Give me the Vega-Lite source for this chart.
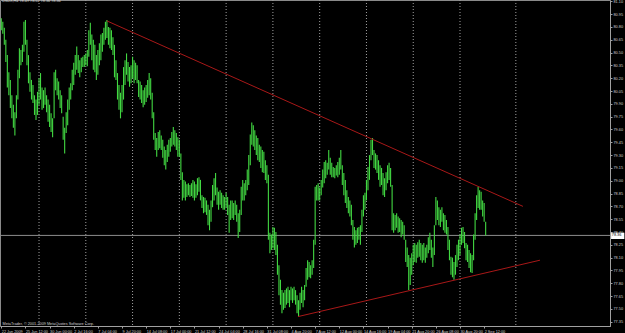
{
"$schema": "https://vega.github.io/schema/vega-lite/v6.json",
"width": 610, "height": 326,
"autosize": "none",
"padding": {"left": 0, "top": 0, "right": 15, "bottom": 7},
"background": "#000000",
"config": {"view": {"stroke": "#8a8a8a", "strokeWidth": 1}, "font": "Liberation Sans"},
"title": {"text": "USDX,H4 78.49 78.52 78.36 78.36", "anchor": "start", "frame": "group", "orient": "top", "baseline": "top", "offset": -4, "dx": 2, "fontSize": 3.8, "fontWeight": "normal", "color": "#d8d8d8", "font": "Liberation Sans"},
"datasets": {
"weeks": [{"b":25},{"b":56},{"b":87},{"b":118},{"b":149},{"b":180},{"b":211},{"b":242},{"b":273},{"b":304},{"b":341}],
"trend": [{"line":"up","b":70,"p":80.87},{"line":"up","b":345.7,"p":78.70},{"line":"lo","b":196.6,"p":77.41},{"line":"lo","b":357,"p":78.07}],
"bid": [{"p":78.36}],
"bars": [
{"b":0,"h":80.90,"l":80.76},{"b":1,"h":80.86,"l":80.72},{"b":2,"h":80.79,"l":80.59},{"b":3,"h":80.65,"l":80.39},{"b":4,"h":80.47,"l":80.09},{"b":5,"h":80.27,"l":80.00},{"b":6,"h":80.18,"l":79.85},{"b":7,"h":80.00,"l":79.73},{"b":8,"h":79.89,"l":79.62},{"b":9,"h":79.80,"l":79.53},
{"b":10,"h":80.00,"l":79.73},{"b":11,"h":80.30,"l":79.95},{"b":12,"h":80.55,"l":80.20},{"b":13,"h":80.53,"l":80.35},{"b":14,"h":80.59,"l":80.39},{"b":15,"h":80.86,"l":80.51},{"b":16,"h":80.88,"l":80.59},{"b":17,"h":80.65,"l":80.35},{"b":18,"h":80.47,"l":80.14},{"b":19,"h":80.27,"l":80.04},
{"b":20,"h":80.18,"l":79.95},{"b":21,"h":80.12,"l":79.91},{"b":22,"h":80.00,"l":79.77},{"b":23,"h":79.95,"l":79.71},{"b":24,"h":80.04,"l":79.77},{"b":25,"h":80.20,"l":79.89},{"b":26,"h":80.26,"l":79.95},{"b":27,"h":80.09,"l":79.83},{"b":28,"h":80.06,"l":79.85},{"b":29,"h":80.09,"l":79.89},
{"b":30,"h":80.00,"l":79.80},{"b":31,"h":79.95,"l":79.69},{"b":32,"h":79.89,"l":79.63},{"b":33,"h":79.79,"l":79.57},{"b":34,"h":79.73,"l":79.51},{"b":35,"h":80.27,"l":79.73},{"b":36,"h":80.30,"l":80.06},{"b":37,"h":80.20,"l":80.00},{"b":38,"h":80.16,"l":79.95},{"b":39,"h":80.06,"l":79.85},
{"b":40,"h":80.00,"l":79.79},{"b":41,"h":79.75,"l":79.48},{"b":42,"h":79.62,"l":79.32},{"b":43,"h":79.80,"l":79.56},{"b":44,"h":79.95,"l":79.65},{"b":45,"h":80.09,"l":79.83},{"b":46,"h":80.14,"l":79.95},{"b":47,"h":80.30,"l":80.06},{"b":48,"h":80.38,"l":80.12},{"b":49,"h":80.47,"l":80.24},
{"b":50,"h":80.57,"l":80.30},{"b":51,"h":80.47,"l":80.26},{"b":52,"h":80.41,"l":80.21},{"b":53,"h":80.44,"l":80.27},{"b":54,"h":80.45,"l":80.33},{"b":55,"h":80.47,"l":80.33},{"b":56,"h":80.49,"l":80.35},{"b":57,"h":80.53,"l":80.34},{"b":58,"h":80.76,"l":80.45},{"b":59,"h":80.85,"l":80.59},
{"b":60,"h":80.71,"l":80.41},{"b":61,"h":80.65,"l":80.30},{"b":62,"h":80.59,"l":80.27},{"b":63,"h":80.47,"l":80.18},{"b":64,"h":80.53,"l":80.24},{"b":65,"h":80.61,"l":80.35},{"b":66,"h":80.71,"l":80.41},{"b":67,"h":80.73,"l":80.51},{"b":68,"h":80.79,"l":80.59},{"b":69,"h":80.86,"l":80.65},
{"b":70,"h":80.88,"l":80.67},{"b":71,"h":80.80,"l":80.59},{"b":72,"h":80.79,"l":80.55},{"b":73,"h":80.76,"l":80.53},{"b":74,"h":80.68,"l":80.47},{"b":75,"h":80.59,"l":80.21},{"b":76,"h":80.41,"l":80.18},{"b":77,"h":80.26,"l":79.95},{"b":78,"h":80.12,"l":79.83},{"b":79,"h":80.03,"l":79.73},
{"b":80,"h":80.12,"l":79.80},{"b":81,"h":80.33,"l":79.95},{"b":82,"h":80.41,"l":80.12},{"b":83,"h":80.49,"l":80.24},{"b":84,"h":80.39,"l":80.16},{"b":85,"h":80.33,"l":80.10},{"b":86,"h":80.35,"l":80.14},{"b":87,"h":80.45,"l":80.20},{"b":88,"h":80.41,"l":80.14},{"b":89,"h":80.38,"l":80.18},
{"b":90,"h":80.35,"l":80.14},{"b":91,"h":80.18,"l":79.98},{"b":92,"h":80.16,"l":79.95},{"b":93,"h":80.12,"l":79.91},{"b":94,"h":80.06,"l":79.86},{"b":95,"h":80.09,"l":79.89},{"b":96,"h":80.12,"l":79.92},{"b":97,"h":80.18,"l":79.97},{"b":98,"h":80.26,"l":80.00},{"b":99,"h":80.20,"l":79.95},
{"b":100,"h":80.03,"l":79.73},{"b":101,"h":79.80,"l":79.48},{"b":102,"h":79.56,"l":79.36},{"b":103,"h":79.50,"l":79.28},{"b":104,"h":79.57,"l":79.36},{"b":105,"h":79.59,"l":79.38},{"b":106,"h":79.53,"l":79.36},{"b":107,"h":79.48,"l":79.27},{"b":108,"h":79.40,"l":79.18},{"b":109,"h":79.36,"l":79.13},
{"b":110,"h":79.42,"l":79.22},{"b":111,"h":79.48,"l":79.28},{"b":112,"h":79.50,"l":79.34},{"b":113,"h":79.57,"l":79.40},{"b":114,"h":79.63,"l":79.42},{"b":115,"h":79.59,"l":79.40},{"b":116,"h":79.56,"l":79.36},{"b":117,"h":79.51,"l":79.28},{"b":118,"h":79.48,"l":79.28},{"b":119,"h":79.32,"l":79.01},
{"b":120,"h":79.10,"l":78.77},{"b":121,"h":79.01,"l":78.80},{"b":122,"h":78.99,"l":78.77},{"b":123,"h":78.96,"l":78.81},{"b":124,"h":78.97,"l":78.83},{"b":125,"h":78.95,"l":78.81},{"b":126,"h":78.97,"l":78.82},{"b":127,"h":79.01,"l":78.80},{"b":128,"h":78.99,"l":78.77},{"b":129,"h":78.96,"l":78.80},
{"b":130,"h":79.03,"l":78.83},{"b":131,"h":79.04,"l":78.87},{"b":132,"h":79.01,"l":78.77},{"b":133,"h":78.83,"l":78.68},{"b":134,"h":78.81,"l":78.62},{"b":135,"h":78.80,"l":78.63},{"b":136,"h":78.77,"l":78.60},{"b":137,"h":78.72,"l":78.48},{"b":138,"h":78.66,"l":78.42},{"b":139,"h":78.77,"l":78.52},
{"b":140,"h":78.95,"l":78.69},{"b":141,"h":79.03,"l":78.77},{"b":142,"h":79.09,"l":78.83},{"b":143,"h":78.92,"l":78.72},{"b":144,"h":78.87,"l":78.66},{"b":145,"h":78.89,"l":78.72},{"b":146,"h":78.86,"l":78.68},{"b":147,"h":78.83,"l":78.66},{"b":148,"h":78.81,"l":78.66},{"b":149,"h":78.86,"l":78.69},
{"b":150,"h":78.81,"l":78.60},{"b":151,"h":78.72,"l":78.39},{"b":152,"h":78.77,"l":78.54},{"b":153,"h":78.77,"l":78.56},{"b":154,"h":78.74,"l":78.54},{"b":155,"h":78.77,"l":78.60},{"b":156,"h":78.72,"l":78.52},{"b":157,"h":78.62,"l":78.33},{"b":158,"h":78.66,"l":78.40},{"b":159,"h":78.93,"l":78.60},
{"b":160,"h":79.01,"l":78.77},{"b":161,"h":78.97,"l":78.77},{"b":162,"h":79.01,"l":78.83},{"b":163,"h":79.13,"l":78.89},{"b":164,"h":79.30,"l":78.95},{"b":165,"h":79.54,"l":79.18},{"b":166,"h":79.68,"l":79.42},{"b":167,"h":79.65,"l":79.40},{"b":168,"h":79.59,"l":79.36},{"b":169,"h":79.53,"l":79.30},
{"b":170,"h":79.50,"l":79.24},{"b":171,"h":79.42,"l":79.22},{"b":172,"h":79.40,"l":79.15},{"b":173,"h":79.36,"l":79.10},{"b":174,"h":79.34,"l":79.09},{"b":175,"h":79.24,"l":79.01},{"b":176,"h":79.18,"l":78.97},{"b":177,"h":79.07,"l":78.31},{"b":178,"h":78.39,"l":78.15},{"b":179,"h":78.37,"l":78.19},
{"b":180,"h":78.46,"l":78.21},{"b":181,"h":78.45,"l":78.19},{"b":182,"h":78.40,"l":78.13},{"b":183,"h":78.25,"l":77.90},{"b":184,"h":78.01,"l":77.66},{"b":185,"h":77.84,"l":77.55},{"b":186,"h":77.72,"l":77.45},{"b":187,"h":77.69,"l":77.49},{"b":188,"h":77.72,"l":77.51},{"b":189,"h":77.74,"l":77.55},
{"b":190,"h":77.76,"l":77.57},{"b":191,"h":77.72,"l":77.52},{"b":192,"h":77.76,"l":77.60},{"b":193,"h":77.74,"l":77.57},{"b":194,"h":77.76,"l":77.60},{"b":195,"h":77.72,"l":77.55},{"b":196,"h":77.66,"l":77.45},{"b":197,"h":77.60,"l":77.41},{"b":198,"h":77.69,"l":77.49},{"b":199,"h":77.76,"l":77.57},
{"b":200,"h":77.72,"l":77.52},{"b":201,"h":77.78,"l":77.60},{"b":202,"h":77.98,"l":77.76},{"b":203,"h":78.07,"l":77.84},{"b":204,"h":78.05,"l":77.87},{"b":205,"h":78.01,"l":77.86},{"b":206,"h":78.07,"l":77.90},{"b":207,"h":78.31,"l":77.98},{"b":208,"h":78.93,"l":78.25},{"b":209,"h":78.95,"l":78.77},
{"b":210,"h":78.97,"l":78.77},{"b":211,"h":78.92,"l":78.77},{"b":212,"h":79.01,"l":78.83},{"b":213,"h":79.13,"l":78.92},{"b":214,"h":79.22,"l":78.97},{"b":215,"h":79.24,"l":79.03},{"b":216,"h":79.21,"l":79.07},{"b":217,"h":79.36,"l":79.13},{"b":218,"h":79.27,"l":79.07},{"b":219,"h":79.21,"l":79.04},
{"b":220,"h":79.16,"l":79.04},{"b":221,"h":79.15,"l":79.03},{"b":222,"h":79.18,"l":79.06},{"b":223,"h":79.22,"l":79.04},{"b":224,"h":79.27,"l":79.07},{"b":225,"h":79.36,"l":79.13},{"b":226,"h":79.18,"l":78.95},{"b":227,"h":79.09,"l":78.83},{"b":228,"h":79.01,"l":78.74},{"b":229,"h":78.89,"l":78.68},
{"b":230,"h":78.81,"l":78.62},{"b":231,"h":78.77,"l":78.58},{"b":232,"h":78.72,"l":78.48},{"b":233,"h":78.54,"l":78.31},{"b":234,"h":78.46,"l":78.22},{"b":235,"h":78.42,"l":78.25},{"b":236,"h":78.45,"l":78.27},{"b":237,"h":78.46,"l":78.31},{"b":238,"h":78.48,"l":78.25},{"b":239,"h":78.66,"l":78.40},
{"b":240,"h":78.83,"l":78.58},{"b":241,"h":78.86,"l":78.66},{"b":242,"h":79.01,"l":78.77},{"b":243,"h":79.16,"l":78.89},{"b":244,"h":79.30,"l":79.01},{"b":245,"h":79.48,"l":79.24},{"b":246,"h":79.50,"l":79.30},{"b":247,"h":79.36,"l":79.15},{"b":248,"h":79.32,"l":79.13},{"b":249,"h":79.30,"l":79.09},
{"b":250,"h":79.24,"l":79.01},{"b":251,"h":79.18,"l":78.93},{"b":252,"h":79.15,"l":78.95},{"b":253,"h":79.09,"l":78.83},{"b":254,"h":79.03,"l":78.81},{"b":255,"h":79.10,"l":78.89},{"b":256,"h":79.18,"l":78.97},{"b":257,"h":79.21,"l":79.01},{"b":258,"h":79.15,"l":78.93},{"b":259,"h":78.95,"l":78.42},
{"b":260,"h":78.62,"l":78.39},{"b":261,"h":78.60,"l":78.42},{"b":262,"h":78.62,"l":78.45},{"b":263,"h":78.58,"l":78.39},{"b":264,"h":78.56,"l":78.40},{"b":265,"h":78.54,"l":78.34},{"b":266,"h":78.52,"l":78.37},{"b":267,"h":78.48,"l":78.31},{"b":268,"h":78.31,"l":78.05},{"b":269,"h":78.22,"l":77.99},
{"b":270,"h":78.13,"l":77.72},{"b":271,"h":78.10,"l":77.78},{"b":272,"h":78.15,"l":77.90},{"b":273,"h":78.25,"l":78.01},{"b":274,"h":78.27,"l":78.05},{"b":275,"h":78.25,"l":78.04},{"b":276,"h":78.28,"l":78.10},{"b":277,"h":78.31,"l":78.11},{"b":278,"h":78.27,"l":78.07},{"b":279,"h":78.25,"l":78.04},
{"b":280,"h":78.27,"l":78.07},{"b":281,"h":78.22,"l":78.04},{"b":282,"h":78.25,"l":78.10},{"b":283,"h":78.34,"l":78.15},{"b":284,"h":78.39,"l":78.19},{"b":285,"h":78.31,"l":78.10},{"b":286,"h":78.22,"l":77.99},{"b":287,"h":78.48,"l":78.13},{"b":288,"h":78.81,"l":78.48},{"b":289,"h":78.77,"l":78.54},
{"b":290,"h":78.69,"l":78.48},{"b":291,"h":78.66,"l":78.46},{"b":292,"h":78.69,"l":78.52},{"b":293,"h":78.62,"l":78.42},{"b":294,"h":78.60,"l":78.39},{"b":295,"h":78.54,"l":78.37},{"b":296,"h":78.46,"l":78.19},{"b":297,"h":78.31,"l":78.07},{"b":298,"h":78.11,"l":77.90},{"b":299,"h":78.10,"l":77.87},
{"b":300,"h":78.05,"l":77.84},{"b":301,"h":78.13,"l":77.90},{"b":302,"h":78.25,"l":77.99},{"b":303,"h":78.31,"l":78.07},{"b":304,"h":78.37,"l":78.13},{"b":305,"h":78.45,"l":78.25},{"b":306,"h":78.46,"l":78.27},{"b":307,"h":78.40,"l":78.21},{"b":308,"h":78.27,"l":78.07},{"b":309,"h":78.25,"l":78.05},
{"b":310,"h":78.19,"l":77.98},{"b":311,"h":78.15,"l":77.93},{"b":312,"h":78.13,"l":77.92},{"b":313,"h":78.37,"l":78.07},{"b":314,"h":78.62,"l":78.31},{"b":315,"h":78.83,"l":78.54},{"b":316,"h":78.93,"l":78.68},{"b":317,"h":78.89,"l":78.66},{"b":318,"h":78.87,"l":78.66},{"b":319,"h":78.77,"l":78.58},
{"b":320,"h":78.74,"l":78.52},{"b":321,"h":78.52,"l":78.36}
]
},
"layer": [
{"data": {"name": "weeks"},
 "mark": {"type": "rule", "color": "#a0a0a0", "strokeDash": [1, 2], "strokeWidth": 1},
 "encoding": {"x": {"field": "b", "type": "quantitative", "scale": {"domain": [-0.86, 403.4], "nice": false, "zero": false},
   "axis": {"orient": "bottom", "values": [0,16,32,48,64,80,96,112,128,144,160,176,192,208,224,240,256,272,288,304,320],
     "labelExpr": "['22 Jun 2009','25 Jun 12:00','30 Jun 00:00','2 Jul 16:00','7 Jul 04:00','9 Jul 20:00','14 Jul 08:00','17 Jul 00:00','21 Jul 12:00','24 Jul 04:00','28 Jul 16:00','31 Jul 08:00','4 Aug 20:00','7 Aug 12:00','12 Aug 00:00','14 Aug 16:00','19 Aug 04:00','21 Aug 20:00','26 Aug 08:00','30 Aug 20:00','2 Sep 12:00'][round(datum.value/16)]",
     "labelAlign": "left", "labelBaseline": "top", "labelPadding": 1, "labelFontSize": 3.8, "labelColor": "#d0d0d0", "labelFont": "Liberation Sans",
     "labelOverlap": false, "labelFlush": false, "labelBound": false,
     "tickSize": 2, "tickColor": "#a0a0a0", "domainColor": "#a0a0a0", "grid": false,
     "title": "MetaTrader, © 2001-2009 MetaQuotes Software Corp.", "titleAnchor": "start", "titleAlign": "left", "titleX": 2, "titleY": -2, "titleBaseline": "alphabetic",
     "titleFontSize": 3.8, "titleFontWeight": "normal", "titleColor": "#d0d0d0", "titleFont": "Liberation Sans"}}}},
{"data": {"name": "bid"},
 "mark": {"type": "rule", "color": "#8c8c8c", "strokeWidth": 1},
 "encoding": {"y": {"field": "p", "type": "quantitative", "scale": {"domain": [77.30, 81.115], "nice": false, "zero": false},
   "axis": {"orient": "right", "values": [77.35,77.5,77.65,77.8,77.95,78.1,78.25,78.4,78.55,78.7,78.85,79.0,79.15,79.3,79.45,79.6,79.75,79.9,80.05,80.2,80.35,80.5,80.65,80.8,80.95,81.1],
     "format": ".2f", "labelFontSize": 3.8, "labelColor": "#d0d0d0", "labelFont": "Liberation Sans", "labelPadding": 1, "labelOverlap": false, "labelFlush": false, "labelBound": false,
     "tickSize": 2, "tickColor": "#a0a0a0", "domainColor": "#a0a0a0", "grid": false, "title": null}}}},
{"data": {"name": "bars"},
 "mark": {"type": "rule", "color": "#42d842", "strokeWidth": 1.1},
 "encoding": {"x": {"field": "b", "type": "quantitative",
   "axis": {"orient": "bottom", "values": [0,16,32,48,64,80,96,112,128,144,160,176,192,208,224,240,256,272,288,304,320],
     "labelExpr": "['22 Jun 2009','25 Jun 12:00','30 Jun 00:00','2 Jul 16:00','7 Jul 04:00','9 Jul 20:00','14 Jul 08:00','17 Jul 00:00','21 Jul 12:00','24 Jul 04:00','28 Jul 16:00','31 Jul 08:00','4 Aug 20:00','7 Aug 12:00','12 Aug 00:00','14 Aug 16:00','19 Aug 04:00','21 Aug 20:00','26 Aug 08:00','30 Aug 20:00','2 Sep 12:00'][round(datum.value/16)]",
     "labelAlign": "left", "labelBaseline": "top", "labelPadding": 1, "labelFontSize": 3.8, "labelColor": "#d0d0d0", "labelFont": "Liberation Sans",
     "labelOverlap": false, "labelFlush": false, "labelBound": false,
     "tickSize": 2, "tickColor": "#a0a0a0", "domainColor": "#a0a0a0", "grid": false,
     "title": "MetaTrader, © 2001-2009 MetaQuotes Software Corp.", "titleAnchor": "start", "titleAlign": "left", "titleX": 2, "titleY": -2, "titleBaseline": "alphabetic",
     "titleFontSize": 3.8, "titleFontWeight": "normal", "titleColor": "#d0d0d0", "titleFont": "Liberation Sans"}},
   "y": {"field": "h", "type": "quantitative",
   "axis": {"orient": "right", "values": [77.35,77.5,77.65,77.8,77.95,78.1,78.25,78.4,78.55,78.7,78.85,79.0,79.15,79.3,79.45,79.6,79.75,79.9,80.05,80.2,80.35,80.5,80.65,80.8,80.95,81.1],
     "format": ".2f", "labelFontSize": 3.8, "labelColor": "#d0d0d0", "labelFont": "Liberation Sans", "labelPadding": 1, "labelOverlap": false, "labelFlush": false, "labelBound": false,
     "tickSize": 2, "tickColor": "#a0a0a0", "domainColor": "#a0a0a0", "grid": false, "title": null}},
   "y2": {"field": "l"}}},
{"data": {"name": "trend"},
 "mark": {"type": "line", "color": "#a81818", "strokeWidth": 1},
 "encoding": {"x": {"field": "b", "type": "quantitative",
   "axis": {"orient": "bottom", "values": [0,16,32,48,64,80,96,112,128,144,160,176,192,208,224,240,256,272,288,304,320],
     "labelExpr": "['22 Jun 2009','25 Jun 12:00','30 Jun 00:00','2 Jul 16:00','7 Jul 04:00','9 Jul 20:00','14 Jul 08:00','17 Jul 00:00','21 Jul 12:00','24 Jul 04:00','28 Jul 16:00','31 Jul 08:00','4 Aug 20:00','7 Aug 12:00','12 Aug 00:00','14 Aug 16:00','19 Aug 04:00','21 Aug 20:00','26 Aug 08:00','30 Aug 20:00','2 Sep 12:00'][round(datum.value/16)]",
     "labelAlign": "left", "labelBaseline": "top", "labelPadding": 1, "labelFontSize": 3.8, "labelColor": "#d0d0d0", "labelFont": "Liberation Sans",
     "labelOverlap": false, "labelFlush": false, "labelBound": false,
     "tickSize": 2, "tickColor": "#a0a0a0", "domainColor": "#a0a0a0", "grid": false,
     "title": "MetaTrader, © 2001-2009 MetaQuotes Software Corp.", "titleAnchor": "start", "titleAlign": "left", "titleX": 2, "titleY": -2, "titleBaseline": "alphabetic",
     "titleFontSize": 3.8, "titleFontWeight": "normal", "titleColor": "#d0d0d0", "titleFont": "Liberation Sans"}},
   "y": {"field": "p", "type": "quantitative",
   "axis": {"orient": "right", "values": [77.35,77.5,77.65,77.8,77.95,78.1,78.25,78.4,78.55,78.7,78.85,79.0,79.15,79.3,79.45,79.6,79.75,79.9,80.05,80.2,80.35,80.5,80.65,80.8,80.95,81.1],
     "format": ".2f", "labelFontSize": 3.8, "labelColor": "#d0d0d0", "labelFont": "Liberation Sans", "labelPadding": 1, "labelOverlap": false, "labelFlush": false, "labelBound": false,
     "tickSize": 2, "tickColor": "#a0a0a0", "domainColor": "#a0a0a0", "grid": false, "title": null}},
   "detail": {"field": "line"}}},
{"data": {"name": "bid"},
 "mark": {"type": "rect", "color": "#ffffff"},
 "encoding": {"x": {"datum": 404.1,
   "axis": {"orient": "bottom", "values": [0,16,32,48,64,80,96,112,128,144,160,176,192,208,224,240,256,272,288,304,320],
     "labelExpr": "['22 Jun 2009','25 Jun 12:00','30 Jun 00:00','2 Jul 16:00','7 Jul 04:00','9 Jul 20:00','14 Jul 08:00','17 Jul 00:00','21 Jul 12:00','24 Jul 04:00','28 Jul 16:00','31 Jul 08:00','4 Aug 20:00','7 Aug 12:00','12 Aug 00:00','14 Aug 16:00','19 Aug 04:00','21 Aug 20:00','26 Aug 08:00','30 Aug 20:00','2 Sep 12:00'][round(datum.value/16)]",
     "labelAlign": "left", "labelBaseline": "top", "labelPadding": 1, "labelFontSize": 3.8, "labelColor": "#d0d0d0", "labelFont": "Liberation Sans",
     "labelOverlap": false, "labelFlush": false, "labelBound": false,
     "tickSize": 2, "tickColor": "#a0a0a0", "domainColor": "#a0a0a0", "grid": false,
     "title": "MetaTrader, © 2001-2009 MetaQuotes Software Corp.", "titleAnchor": "start", "titleAlign": "left", "titleX": 2, "titleY": -2, "titleBaseline": "alphabetic",
     "titleFontSize": 3.8, "titleFontWeight": "normal", "titleColor": "#d0d0d0", "titleFont": "Liberation Sans"}},
   "x2": {"datum": 412.9},
   "y": {"datum": 78.392,
   "axis": {"orient": "right", "values": [77.35,77.5,77.65,77.8,77.95,78.1,78.25,78.4,78.55,78.7,78.85,79.0,79.15,79.3,79.45,79.6,79.75,79.9,80.05,80.2,80.35,80.5,80.65,80.8,80.95,81.1],
     "format": ".2f", "labelFontSize": 3.8, "labelColor": "#d0d0d0", "labelFont": "Liberation Sans", "labelPadding": 1, "labelOverlap": false, "labelFlush": false, "labelBound": false,
     "tickSize": 2, "tickColor": "#a0a0a0", "domainColor": "#a0a0a0", "grid": false, "title": null}},
   "y2": {"datum": 78.318}}},
{"data": {"name": "bid"},
 "mark": {"type": "text", "color": "#000000", "fontSize": 3.8, "font": "Liberation Sans", "align": "left", "baseline": "middle"},
 "encoding": {"x": {"datum": 404.6,
   "axis": {"orient": "bottom", "values": [0,16,32,48,64,80,96,112,128,144,160,176,192,208,224,240,256,272,288,304,320],
     "labelExpr": "['22 Jun 2009','25 Jun 12:00','30 Jun 00:00','2 Jul 16:00','7 Jul 04:00','9 Jul 20:00','14 Jul 08:00','17 Jul 00:00','21 Jul 12:00','24 Jul 04:00','28 Jul 16:00','31 Jul 08:00','4 Aug 20:00','7 Aug 12:00','12 Aug 00:00','14 Aug 16:00','19 Aug 04:00','21 Aug 20:00','26 Aug 08:00','30 Aug 20:00','2 Sep 12:00'][round(datum.value/16)]",
     "labelAlign": "left", "labelBaseline": "top", "labelPadding": 1, "labelFontSize": 3.8, "labelColor": "#d0d0d0", "labelFont": "Liberation Sans",
     "labelOverlap": false, "labelFlush": false, "labelBound": false,
     "tickSize": 2, "tickColor": "#a0a0a0", "domainColor": "#a0a0a0", "grid": false,
     "title": "MetaTrader, © 2001-2009 MetaQuotes Software Corp.", "titleAnchor": "start", "titleAlign": "left", "titleX": 2, "titleY": -2, "titleBaseline": "alphabetic",
     "titleFontSize": 3.8, "titleFontWeight": "normal", "titleColor": "#d0d0d0", "titleFont": "Liberation Sans"}},
   "y": {"field": "p", "type": "quantitative",
   "axis": {"orient": "right", "values": [77.35,77.5,77.65,77.8,77.95,78.1,78.25,78.4,78.55,78.7,78.85,79.0,79.15,79.3,79.45,79.6,79.75,79.9,80.05,80.2,80.35,80.5,80.65,80.8,80.95,81.1],
     "format": ".2f", "labelFontSize": 3.8, "labelColor": "#d0d0d0", "labelFont": "Liberation Sans", "labelPadding": 1, "labelOverlap": false, "labelFlush": false, "labelBound": false,
     "tickSize": 2, "tickColor": "#a0a0a0", "domainColor": "#a0a0a0", "grid": false, "title": null}},
   "text": {"field": "p", "type": "quantitative", "format": ".2f"}}}
]
}
